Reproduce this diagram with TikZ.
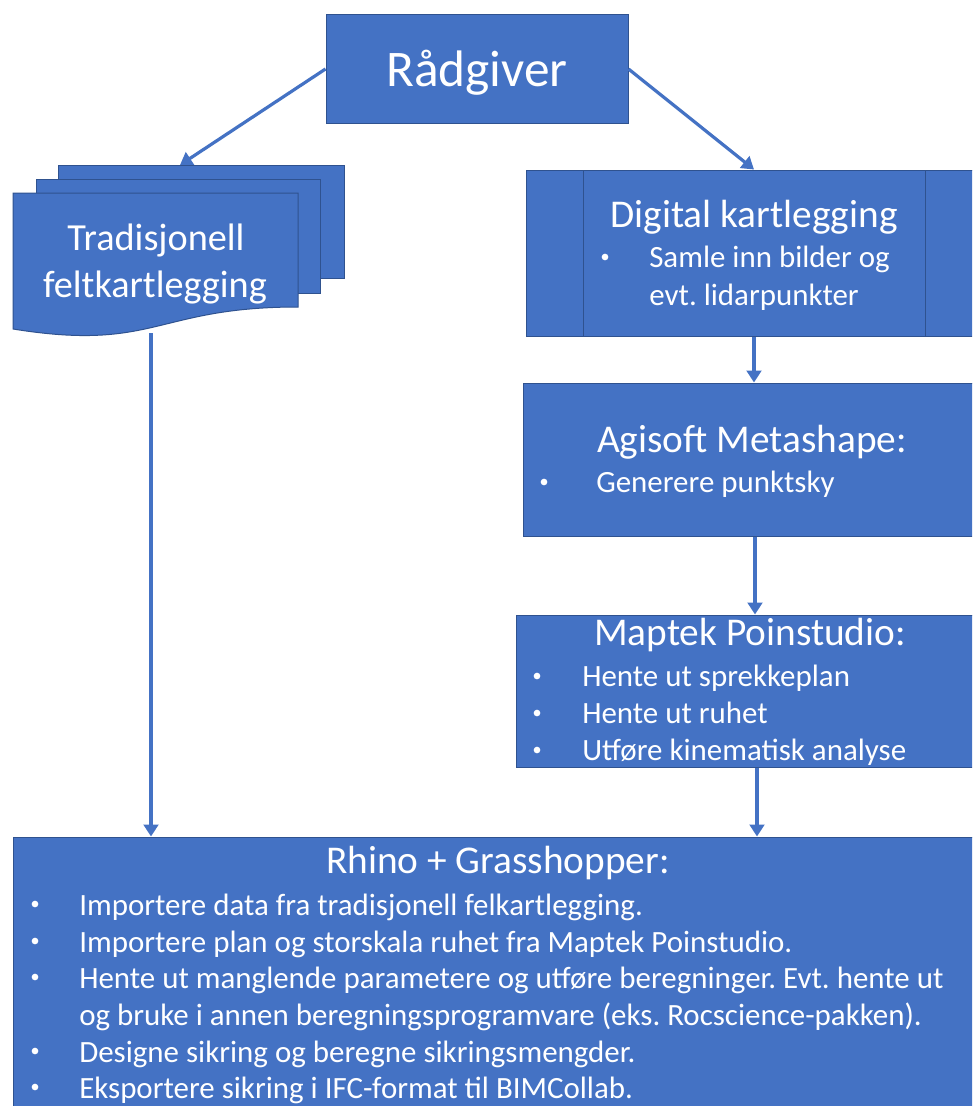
\documentclass[tikz,border=0pt]{standalone}
\usepackage{fontspec}
\setmainfont{Carlito}
\usetikzlibrary{arrows.meta,fit}
\definecolor{boxfill}{RGB}{68,114,196}
\definecolor{boxline}{RGB}{47,82,143}
\frenchspacing
\begin{document}
\begin{tikzpicture}[x=0.75pt,y=-0.75pt,
  box/.style={draw=boxline, fill=boxfill, line width=0.75pt, inner sep=0pt, rectangle},
  sheet/.style={draw=boxline, fill=boxfill, line width=0.75pt},
  txt/.style={text=white, inner sep=0pt, anchor=base},
  ltxt/.style={text=white, inner sep=0pt, anchor=base west},
  dot/.style={circle, fill=white, inner sep=0pt, minimum size=5pt},
  bigfont/.style={font=\fontsize{38.5}{46}\selectfont},
  tradfont/.style={font=\fontsize{28.7}{34}\selectfont},
  headfont/.style={font=\fontsize{29.5}{35}\selectfont},
  itemfont/.style={font=\fontsize{23.2}{28}\selectfont},
  flow/.style={draw=boxfill, line width=2.4pt, -{Triangle[width=11pt,length=9pt]}}
]
\clip (0,0) rectangle (972,1106);
\fill[white] (0,0) rectangle (972,1106);

% top box
\node[box, fit={(326,15) (628,123)}] (advisor) {};
\node[txt, bigfont] (advisortxt) at (477,87) {Rådgiver};

% stacked documents (traditional mapping)
\draw[sheet] (58,165) rectangle (344,278);
\draw[sheet] (36,179) rectangle (320,293);
\draw[sheet] (298,193) -- (298,307) .. controls (155.5,307) and (155.5,352) .. (13,329) -- (13,193) -- cycle;
\coordinate (tradtop) at (180,165);
\coordinate (tradbot) at (151,333);
\node[txt, tradfont] (trad1) at (156,250) {Tradisjonell};
\node[txt, tradfont] (trad2) at (155,297) {feltkartlegging};

% digital mapping (predefined process)
\node[box, fit={(526,170) (982,336)}] (digital) {};
\draw[boxline, line width=0.75pt] (583,170) -- (583,336) (925,170) -- (925,336);
\node[txt, headfont] (digitalhead) at (754,227) {Digital kartlegging};
\node[dot] (digitalb) at (605,257) {};
\node[ltxt, itemfont] (digital1) at (649,267) {Samle inn bilder og};
\node[ltxt, itemfont] (digital2) at (649,305) {evt. lidarpunkter};

% Agisoft
\node[box, fit={(523,383) (987,536)}] (agisoft) {};
\node[txt, headfont] (agisofthead) at (752,452) {Agisoft Metashape:};
\node[dot] (agisoftb) at (544,482) {};
\node[ltxt, itemfont] (agisoft1) at (596,492) {Generere punktsky};

% Maptek
\node[box, fit={(516,615) (998,767)}] (maptek) {};
\node[txt, headfont] (maptekhead) at (750,645) {Maptek Poinstudio:};
\foreach \yy/\tt [count=\i] in {686/Hente ut sprekkeplan, 723/Hente ut ruhet, 760/Utføre kinematisk analyse}{
  \node[dot] (maptekb\i) at (537,\yy-10) {};
  \node[ltxt, itemfont] (maptek\i) at (582,\yy) {\tt};
}

% Rhino + Grasshopper
\node[box, fit={(13,837) (983,1130)}] (rhino) {};
\node[txt, headfont] (rhinohead) at (498,873) {Rhino + Grasshopper:};
\node[dot] (rhinob1) at (35,904) {};
\node[ltxt, itemfont] (rhino1) at (79,915) {Importere data fra tradisjonell felkartlegging.};
\node[dot] (rhinob2) at (35,941) {};
\node[ltxt, itemfont] (rhino2) at (79,952) {Importere plan og storskala ruhet fra Maptek Poinstudio.};
\node[dot] (rhinob3) at (35,977) {};
\node[ltxt, itemfont] (rhino3) at (79,988) {Hente ut manglende parametere og utføre beregninger. Evt. hente ut};
\node[ltxt, itemfont] (rhino4) at (79,1025) {og bruke i annen beregningsprogramvare (eks. Rocscience-pakken).};
\node[dot] (rhinob5) at (35,1051) {};
\node[ltxt, itemfont] (rhino5) at (79,1062) {Designe sikring og beregne sikringsmengder.};
\node[dot] (rhinob6) at (35,1087) {};
\node[ltxt, itemfont] (rhino6) at (79,1098) {Eksportere sikring i IFC-format til BIMCollab.};

% connectors
\draw[flow] (advisor.west) -- (tradtop);
\draw[flow] (advisor.east) -- (digital.north);
\draw[flow] (digital.south) -- (digital.south |- agisoft.north);
\draw[flow] (agisoft.south) -- (agisoft.south |- maptek.north);
\draw[flow] (maptek.south) -- (maptek.south |- rhino.north);
\draw[flow] (tradbot) -- (tradbot |- rhino.north);
\end{tikzpicture}
\end{document}
